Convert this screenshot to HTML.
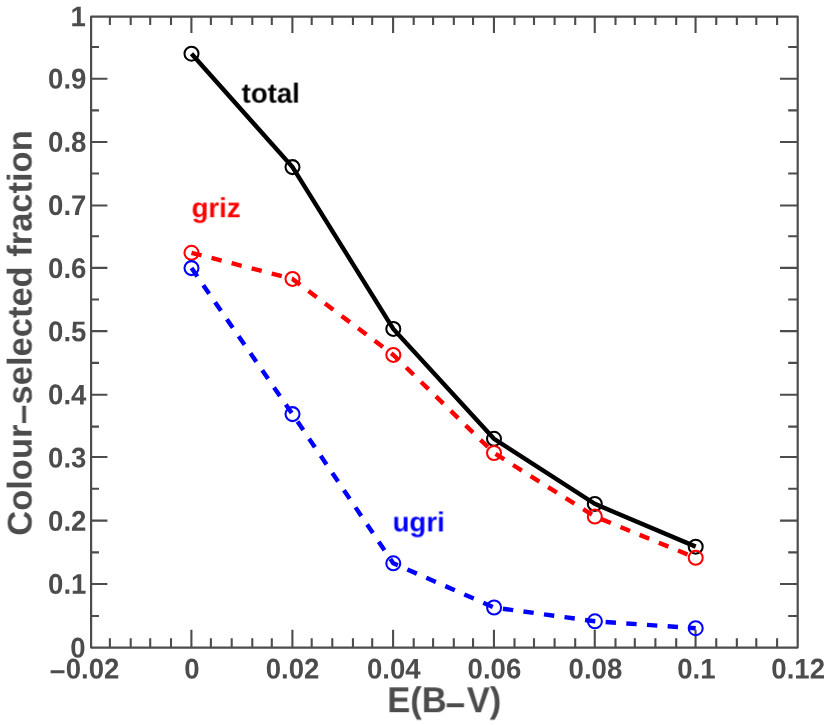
<!DOCTYPE html>
<html><head><meta charset="utf-8"><title>chart</title>
<style>html,body{margin:0;padding:0;background:#fff;}svg{display:block;}text{text-rendering:geometricPrecision;font-family:"Liberation Sans",sans-serif;font-weight:bold;}</style></head><body>
<svg width="830" height="725" viewBox="0 0 830 725">
<rect x="0" y="0" width="830" height="725" fill="#ffffff"/>
<path d="M109.90 647.60V638.15M109.90 16.70V25.00M130.70 647.60V638.15M130.70 16.70V25.00M150.20 647.60V638.15M150.20 16.70V25.00M171.00 647.60V638.15M171.00 16.70V25.00M191.40 647.60V629.80M191.40 16.70V33.00M210.90 647.60V638.15M210.90 16.70V25.00M231.70 647.60V638.15M231.70 16.70V25.00M252.30 647.60V638.15M252.30 16.70V25.00M271.80 647.60V638.15M271.80 16.70V25.00M292.40 647.60V629.80M292.40 16.70V33.00M311.70 647.60V638.15M311.70 16.70V25.00M332.30 647.60V638.15M332.30 16.70V25.00M352.95 647.60V638.15M352.95 16.70V25.00M372.20 647.60V638.15M372.20 16.70V25.00M393.10 647.60V629.80M393.10 16.70V33.00M413.70 647.60V638.15M413.70 16.70V25.00M433.10 647.60V638.15M433.10 16.70V25.00M453.80 647.60V638.15M453.80 16.70V25.00M473.05 647.60V638.15M473.05 16.70V25.00M493.95 647.60V629.80M493.95 16.70V33.00M514.50 647.60V638.15M514.50 16.70V25.00M534.00 647.60V638.15M534.00 16.70V25.00M554.60 647.60V638.15M554.60 16.70V25.00M575.20 647.60V638.15M575.20 16.70V25.00M594.75 647.60V629.80M594.75 16.70V33.00M615.50 647.60V638.15M615.50 16.70V25.00M634.80 647.60V638.15M634.80 16.70V25.00M655.40 647.60V638.15M655.40 16.70V25.00M676.20 647.60V638.15M676.20 16.70V25.00M695.55 647.60V629.80M695.55 16.70V33.00M716.25 647.60V638.15M716.25 16.70V25.00M736.85 647.60V638.15M736.85 16.70V25.00M756.30 647.60V638.15M756.30 16.70V25.00M777.10 647.60V638.15M777.10 16.70V25.00M91.10 615.95H99.00M797.70 615.95H788.20M91.10 584.05H107.40M797.70 584.05H780.00M91.10 552.40H99.00M797.70 552.40H788.20M91.10 520.60H107.40M797.70 520.60H780.00M91.10 488.80H99.00M797.70 488.80H788.20M91.10 457.00H107.40M797.70 457.00H780.00M91.10 426.60H99.00M797.70 426.60H788.20M91.10 394.80H107.40M797.70 394.80H780.00M91.10 362.90H99.00M797.70 362.90H788.20M91.10 331.15H107.40M797.70 331.15H780.00M91.10 299.50H99.00M797.70 299.50H788.20M91.10 267.90H107.40M797.70 267.90H780.00M91.10 236.20H99.00M797.70 236.20H788.20M91.10 205.50H107.40M797.70 205.50H780.00M91.10 173.50H99.00M797.70 173.50H788.20M91.10 142.00H107.40M797.70 142.00H780.00M91.10 110.40H99.00M797.70 110.40H788.20M91.10 78.70H107.40M797.70 78.70H780.00M91.10 46.95H99.00M797.70 46.95H788.20" stroke="#4c4c4c" stroke-width="2.1" fill="none"/>
<rect x="91.1" y="16.7" width="706.60" height="630.90" fill="none" stroke="#4c4c4c" stroke-width="2.2" stroke-linejoin="round"/>
<polyline points="191.5,53.7 292.5,167.1 393.3,328.9 494,438.8 594.8,503.9 695.7,546.65" fill="none" stroke="#000000" stroke-width="4.4" stroke-linejoin="miter"/>
<circle cx="191.5" cy="53.7" r="7.0" fill="none" stroke="#000000" stroke-width="2.05"/>
<circle cx="292.5" cy="167.1" r="7.0" fill="none" stroke="#000000" stroke-width="2.05"/>
<circle cx="393.3" cy="328.9" r="7.0" fill="none" stroke="#000000" stroke-width="2.05"/>
<circle cx="494" cy="438.8" r="7.0" fill="none" stroke="#000000" stroke-width="2.05"/>
<circle cx="594.8" cy="503.9" r="7.0" fill="none" stroke="#000000" stroke-width="2.05"/>
<circle cx="695.7" cy="546.65" r="7.0" fill="none" stroke="#000000" stroke-width="2.05"/>
<polyline points="191.5,252.8 292.5,278.9 393.3,354.9 494,453 594.8,516.5 695.7,557.8" fill="none" stroke="#ff0000" stroke-width="4.4" stroke-linejoin="miter" stroke-dasharray="10.35 10.37"/>
<circle cx="191.5" cy="252.8" r="7.0" fill="none" stroke="#ff0000" stroke-width="2.05"/>
<circle cx="292.5" cy="278.9" r="7.0" fill="none" stroke="#ff0000" stroke-width="2.05"/>
<circle cx="393.3" cy="354.9" r="7.0" fill="none" stroke="#ff0000" stroke-width="2.05"/>
<circle cx="494" cy="453" r="7.0" fill="none" stroke="#ff0000" stroke-width="2.05"/>
<circle cx="594.8" cy="516.5" r="7.0" fill="none" stroke="#ff0000" stroke-width="2.05"/>
<circle cx="695.7" cy="557.8" r="7.0" fill="none" stroke="#ff0000" stroke-width="2.05"/>
<polyline points="191.5,268.1 292.5,414.1 393.3,563.3 494.1,607.5 594.9,621.3 695.7,628.2" fill="none" stroke="#0000ff" stroke-width="4.4" stroke-linejoin="miter" stroke-dasharray="10.35 10.37"/>
<circle cx="191.5" cy="268.1" r="7.0" fill="none" stroke="#0000ff" stroke-width="2.05"/>
<circle cx="292.5" cy="414.1" r="7.0" fill="none" stroke="#0000ff" stroke-width="2.05"/>
<circle cx="393.3" cy="563.3" r="7.0" fill="none" stroke="#0000ff" stroke-width="2.05"/>
<circle cx="494.1" cy="607.5" r="7.0" fill="none" stroke="#0000ff" stroke-width="2.05"/>
<circle cx="594.9" cy="621.3" r="7.0" fill="none" stroke="#0000ff" stroke-width="2.05"/>
<circle cx="695.7" cy="628.2" r="7.0" fill="none" stroke="#0000ff" stroke-width="2.05"/>
<g opacity="0.999">
<g fill="#4c4c4c" font-size="27.6px">
<text transform="translate(84.50 678.40) rotate(0.05) scale(1 1.032)" text-anchor="middle"><tspan dy="2.70" dx="0.00">−</tspan><tspan dy="-2.70" dx="0.00">0.02</tspan></text>
<text transform="translate(192.00 678.40) rotate(0.05) scale(1 1.032)" text-anchor="middle">0</text>
<text transform="translate(292.60 678.40) rotate(0.05) scale(1 1.032)" text-anchor="middle">0.02</text>
<text transform="translate(393.80 678.40) rotate(0.05) scale(1 1.032)" text-anchor="middle">0.04</text>
<text transform="translate(494.40 678.40) rotate(0.05) scale(1 1.032)" text-anchor="middle">0.06</text>
<text transform="translate(595.40 678.40) rotate(0.05) scale(1 1.032)" text-anchor="middle">0.08</text>
<text transform="translate(696.30 678.40) rotate(0.05) scale(1 1.032)" text-anchor="middle">0.1</text>
<text transform="translate(798.20 678.40) rotate(0.05) scale(1 1.032)" text-anchor="middle">0.12</text>
<text transform="translate(85.70 657.60) rotate(0.05) scale(1 1.032)" text-anchor="end">0</text>
<text transform="translate(86.40 593.85) rotate(0.05) scale(1 1.032)" text-anchor="end">0.1</text>
<text transform="translate(86.40 530.69) rotate(0.05) scale(1 1.032)" text-anchor="end">0.2</text>
<text transform="translate(86.40 467.54) rotate(0.05) scale(1 1.032)" text-anchor="end">0.3</text>
<text transform="translate(86.40 404.39) rotate(0.05) scale(1 1.032)" text-anchor="end">0.4</text>
<text transform="translate(86.40 341.24) rotate(0.05) scale(1 1.032)" text-anchor="end">0.5</text>
<text transform="translate(86.40 278.08) rotate(0.05) scale(1 1.032)" text-anchor="end">0.6</text>
<text transform="translate(86.40 214.93) rotate(0.05) scale(1 1.032)" text-anchor="end">0.7</text>
<text transform="translate(86.40 151.78) rotate(0.05) scale(1 1.032)" text-anchor="end">0.8</text>
<text transform="translate(86.40 88.62) rotate(0.05) scale(1 1.032)" text-anchor="end">0.9</text>
<text transform="translate(85.80 26.30) rotate(0.05) scale(1 1.032)" text-anchor="end">1</text>
</g>
<text transform="translate(444.30 712.50) rotate(0.05) scale(1 1.043)" text-anchor="middle" font-size="34.5px" fill="#4c4c4c">E(B<tspan dy="4.58" dx="-1.30">−</tspan><tspan dy="-4.58" dx="1.30">V)</tspan></text>
<text transform="translate(31.6 333) rotate(-90)" text-anchor="middle" font-size="34.5px" fill="#4c4c4c">Colour<tspan dy="3.66" dx="0.00">−</tspan><tspan dy="-3.66" dx="0.00">selected fraction</tspan></text>
<text transform="translate(241.60 102.60) rotate(0.05)" font-size="27.6px" fill="#000000">total</text>
<text transform="translate(191.60 217.20) rotate(0.05)" font-size="27.6px" fill="#ff0000">griz</text>
<text transform="translate(392.60 531.40) rotate(0.05)" font-size="27.6px" fill="#0000ff">ugri</text>
</g>
</svg></body></html>
